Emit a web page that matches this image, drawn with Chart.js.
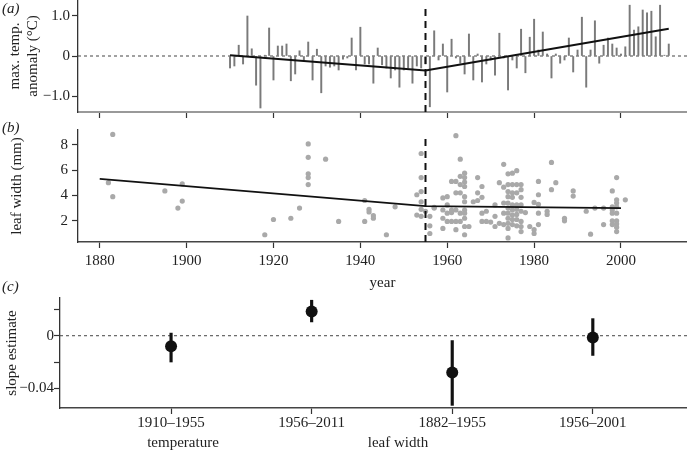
<!DOCTYPE html>
<html>
<head>
<meta charset="utf-8">
<script src="https://cdn.jsdelivr.net/npm/chart.js@4.4.1/dist/chart.umd.min.js"></script>
<style>
body { margin: 0; background: #fff; }
#wrap { position: relative; width: 687px; height: 450px; overflow: hidden; font-family: "Liberation Serif", serif; }
canvas { position: absolute; left: 0; }
.lab { position: absolute; font-size: 15px; line-height: 18px; color: #222; white-space: nowrap; }
</style>
</head>
<body>
<div id="wrap">
  <canvas id="ca" width="687" height="125" style="top:0"></canvas>
  <canvas id="cb" width="687" height="177" style="top:118px"></canvas>
  <canvas id="cc" width="687" height="170" style="top:280px"></canvas>
  <div class="lab" style="left:2px;top:-1px;font-style:italic">(a)</div>
  <div class="lab" style="left:2px;top:118px;font-style:italic">(b)</div>
  <div class="lab" style="left:2px;top:277px;font-style:italic">(c)</div>
  <div class="lab" style="left:183px;top:433px;transform:translateX(-50%)">temperature</div>
  <div class="lab" style="left:398px;top:433px;transform:translateX(-50%)">leaf width</div>
</div>
<script>
// panel (a): yearly max. temp. anomaly 1910-2011
var tempYears = [];
for (var yr = 1910; yr <= 2011; yr++) tempYears.push(yr);
var anomaly = [
  -0.30, -0.25, 0.27, -0.20, 1.00, 0.18, -0.73, -1.30, 0.02, 0.70,
  -0.60, 0.25, 0.25, 0.30, -0.62, -0.45, 0.13, -0.10, 0.35, -0.60,
  0.17, -0.92, -0.25, -0.28, -0.25, -0.35, -0.08, -0.05, 0.45, -0.35,
  0.72, -0.20, -0.20, -0.68, 0.20, -0.22, -0.30, -0.55, -0.35, -0.78,
  -0.35, -0.30, -0.68, -0.25, -0.30, -0.20, -1.27, 0.63, -0.10, 0.30,
  -0.90, 0.42, -0.05, -0.18, -0.45, 0.55, -0.60, 0.05, -0.65, -0.20,
  -0.10, -0.48, 0.57, -0.05, -0.85, -0.10, -0.30, 0.67, -0.42, 0.47,
  0.92, 0.15, 0.60, 0.05, -0.55, 0.05, -0.18, -0.10, 0.45, -0.40,
  0.15, 0.97, -0.78, 0.15, 0.88, -0.18, 0.27, 0.45, 0.30, 0.20,
  0.05, 0.23, 1.27, 0.65, 0.73, 1.15, 1.08, 1.12, 0.48, 1.27,
  0.02, 0.30
];
var tempFitYears = [1910, 1955, 2011];
var tempFitVals = [0.02, -0.36, 0.68];

// panel (b): leaf width of herbarium specimens
var leafYear = [
  1882, 1883, 1883, 1895, 1898, 1899, 1899, 1918, 1920, 1924, 1926,
  1928, 1928, 1928, 1928, 1928, 1932, 1935, 1941, 1941, 1942, 1942, 1943, 1943, 1946, 1948,
  1953, 1953, 1954, 1954, 1954, 1954, 1954, 1954, 1955,
  1956, 1956, 1956, 1957, 1957, 1959, 1959, 1959, 1959,
  1960, 1960, 1960, 1960, 1961, 1961, 1961, 1961,
  1962, 1962, 1962, 1962, 1962, 1962, 1963, 1963, 1963, 1963, 1963, 1963,
  1964, 1964, 1964, 1964, 1964, 1964, 1964, 1964, 1964, 1964, 1964,
  1965, 1966, 1967, 1967, 1967, 1968, 1968, 1968, 1968, 1969, 1969, 1970, 1971, 1971, 1971, 1972, 1972,
  1973, 1973, 1973, 1973, 1973, 1974, 1974, 1974, 1974, 1974, 1974, 1974, 1974, 1974, 1974, 1974,
  1975, 1975, 1975, 1975, 1975, 1975, 1975, 1975, 1975, 1976, 1976, 1976, 1976, 1976, 1976, 1976, 1976,
  1977, 1977, 1977, 1977, 1977, 1977, 1977, 1977,
  1978, 1979, 1980, 1980, 1980, 1981, 1981, 1981, 1981, 1981, 1983, 1983, 1984, 1984, 1985,
  1987, 1987, 1989, 1989, 1992, 1993, 1994, 1996, 1996,
  1998, 1998, 1998, 1998, 1998, 1998, 1999, 1999, 1999, 1999, 1999, 1999, 1999, 1999, 1999, 2001
];
var leafWidth = [
  5.0, 8.8, 3.9, 4.35, 3.0, 3.55, 4.9, 0.9, 2.1, 2.2, 3.0,
  8.05, 7.0, 5.7, 5.4, 4.85, 6.85, 1.95, 3.6, 1.95, 2.9, 2.7, 2.4, 2.2, 0.9, 3.1,
  4.05, 2.45, 7.3, 5.4, 4.3, 3.5, 2.9, 2.35, 2.75,
  1.6, 1.0, 2.35, 3.05, 3.0, 3.8, 2.85, 2.2, 1.4,
  3.9, 3.25, 2.6, 1.95, 5.1, 2.85, 2.65, 1.95,
  8.7, 5.1, 4.2, 2.85, 1.95, 1.3, 6.85, 5.5, 4.85, 4.2, 2.6, 1.95,
  5.75, 5.4, 5.05, 4.7, 3.9, 3.5, 2.85, 2.6, 2.2, 1.55, 0.9,
  1.55, 3.5, 5.4, 4.2, 3.6, 4.7, 3.85, 2.6, 1.95, 2.75, 1.95, 1.9, 3.25, 2.35, 1.55, 5.0, 1.8,
  6.45, 4.65, 3.4, 2.6, 1.7, 5.7, 4.85, 4.3, 3.9, 3.4, 3.0, 2.6, 2.2, 1.8, 1.4, 0.65,
  5.75, 4.85, 4.2, 3.85, 3.25, 2.85, 2.45, 2.1, 1.7, 5.95, 4.85, 4.2, 3.25, 2.9, 2.5, 2.1, 1.6,
  4.85, 4.45, 3.85, 3.25, 2.75, 1.95, 1.55, 1.15,
  2.65, 1.55, 3.45, 1.3, 1.0, 5.1, 4.05, 3.3, 2.6, 1.7, 2.75, 2.5, 6.6, 4.45, 5.0,
  2.2, 2.0, 4.35, 3.95, 2.75, 0.95, 3.0, 3.0, 1.7,
  4.35, 3.1, 2.85, 2.6, 2.0, 1.7, 5.4, 3.65, 3.4, 3.1, 2.6, 2.0, 1.75, 1.5, 1.15, 3.65
];
var leafFitYears = [1880, 1955, 2000];
var leafFitVals = [5.3, 3.15, 3.0];

var yearTicks = [1880, 1900, 1920, 1940, 1960, 1980, 2000];
var breakYear = 1955;

// panel (c): slope estimates
var periods = ['1910–1955', '1956–2011', '1882–1955', '1956–2001'];
var slope = [-0.008, 0.0185, -0.028, -0.0013];
var slopeLo = [-0.020, 0.0105, -0.053, -0.015];
var slopeHi = [0.002, 0.027, -0.0037, 0.013];
var slopeTicks = [-0.04, -0.02, 0, 0.02];

var serif = { family: '"Liberation Serif", serif', size: 15 };
var ink = '#222';

function fixW(w) { return function (s) { s.width = w; s.paddingTop = 0; s.paddingBottom = 0; }; }
function fixH(h) { return function (s) { s.height = h; s.paddingLeft = 0; s.paddingRight = 0; }; }
function setTicks(arr) { return function (s) { s.ticks = arr.map(function (v) { return { value: v }; }); }; }
function minus(v, d) { return v === 0 ? '0' : (v < 0 ? '\u2212' : '') + Math.abs(v).toFixed(d); }
function pts(xs, ys) { return xs.map(function (x, i) { return { x: x, y: ys[i] }; }); }
var tickGrid = { drawOnChartArea: false, drawTicks: true, tickLength: 6, tickColor: '#333', tickWidth: 1.2, offset: false };
var base = {
  responsive: false, animation: false, devicePixelRatio: 1,
  plugins: { legend: { display: false }, tooltip: { enabled: false } }
};

new Chart(document.getElementById('ca'), {
  type: 'bar',
  data: {
    datasets: [
      { type: 'line', data: [{ x: 1875, y: 0 }, { x: 2015.2, y: 0 }], borderColor: '#444', borderWidth: 1, borderDash: [3, 3], pointRadius: 0, order: 4 },
      { type: 'bar', data: pts(tempYears, anomaly), backgroundColor: '#7a7a7a', barThickness: 1.3, order: 3 },
      { type: 'line', data: pts(tempFitYears, tempFitVals), borderColor: '#111', borderWidth: 2, pointRadius: 0, order: 2 },
      { type: 'line', data: [{ x: breakYear, y: -1.4 }, { x: breakYear, y: 1.2 }], borderColor: '#111', borderWidth: 2, borderDash: [7, 5], pointRadius: 0, order: 1 }
    ]
  },
  options: Object.assign({}, base, {
    layout: { padding: 0, autoPadding: false },
    scales: {
      x: { type: 'linear', offset: false, min: 1875, max: 2015.2, afterBuildTicks: setTicks(yearTicks), afterFit: fixH(13),
        ticks: { display: false }, grid: tickGrid, border: { color: '#999', width: 2 } },
      y: { min: -1.4, max: 1.4, afterBuildTicks: setTicks([-1, 0, 1]), afterFit: fixW(78),
        ticks: { padding: 2, font: serif, color: ink, callback: function (v) { return minus(v, 1); } },
        grid: tickGrid, border: { color: '#333', width: 1.3 },
        title: { display: true, text: ['max. temp.', 'anomaly (°C)'], font: serif, color: ink, padding: { top: 6, bottom: 0 } } }
    }
  })
});

new Chart(document.getElementById('cb'), {
  type: 'scatter',
  data: {
    datasets: [
      { data: [{ x: breakYear, y: 0.33 }, { x: breakYear, y: 8.65 }], showLine: true, borderColor: '#111', borderWidth: 2, borderDash: [7, 5], pointRadius: 0, order: 1 },
      { data: pts(leafFitYears, leafFitVals), showLine: true, borderColor: '#111', borderWidth: 1.8, pointRadius: 0, order: 2 },
      { data: pts(leafYear, leafWidth), pointRadius: 2.6, backgroundColor: '#a9a9a9', borderWidth: 0, order: 3 }
    ]
  },
  options: Object.assign({}, base, {
    layout: { padding: { top: 12 }, autoPadding: false },
    scales: {
      x: { type: 'linear', offset: false, min: 1875, max: 2015.2, afterBuildTicks: setTicks(yearTicks), afterFit: fixH(53),
        ticks: { padding: 4, font: serif, color: ink, callback: function (v) { return String(v); } },
        grid: tickGrid, border: { color: '#444', width: 1.5 },
        title: { display: true, text: 'year', font: serif, color: ink, padding: { top: 0, bottom: 3 } } },
      y: { min: 0.33, max: 9.15, afterBuildTicks: setTicks([2, 4, 6, 8]), afterFit: fixW(78),
        ticks: { padding: 4, font: serif, color: ink },
        grid: tickGrid, border: { color: '#333', width: 1.3 },
        title: { display: true, text: 'leaf width (mm)', font: serif, color: ink, padding: { top: 8, bottom: 0 } } }
    }
  })
});

new Chart(document.getElementById('cc'), {
  type: 'scatter',
  data: {
    datasets: [
      { data: [{ x: 0.21, y: 0 }, { x: 4.67, y: 0 }], showLine: true, borderColor: '#444', borderWidth: 1, borderDash: [3, 3], pointRadius: 0, order: 3 },
      { type: 'bar', data: periods.map(function (p, i) { return { x: i + 1, y: [slopeLo[i], slopeHi[i]] }; }), backgroundColor: '#111', barThickness: 2.5, order: 2 },
      { data: pts([1, 2, 3, 4], slope), pointRadius: 6, backgroundColor: '#111', borderWidth: 0, order: 1 }
    ]
  },
  options: Object.assign({}, base, {
    layout: { padding: { top: 18 }, autoPadding: false },
    scales: {
      x: { type: 'linear', offset: false, min: 0.21, max: 4.67, afterBuildTicks: setTicks([1, 2, 3, 4]), afterFit: fixH(42),
        ticks: { padding: 0, font: serif, color: ink, callback: function (v) { return periods[v - 1]; } },
        grid: tickGrid, border: { color: '#444', width: 1.5 } },
      y: { min: -0.055, max: 0.0287, afterBuildTicks: setTicks(slopeTicks), afterFit: fixW(60),
        ticks: { padding: 0, font: serif, color: ink, callback: function (v) { return (v === 0 || v === -0.04) ? minus(v, v === 0 ? 0 : 2) : ''; } },
        grid: tickGrid, border: { color: '#333', width: 1.3 },
        title: { display: true, text: 'slope estimate', font: serif, color: ink, padding: { top: 3, bottom: 0 } } }
    }
  })
});
</script>
</body>
</html>
